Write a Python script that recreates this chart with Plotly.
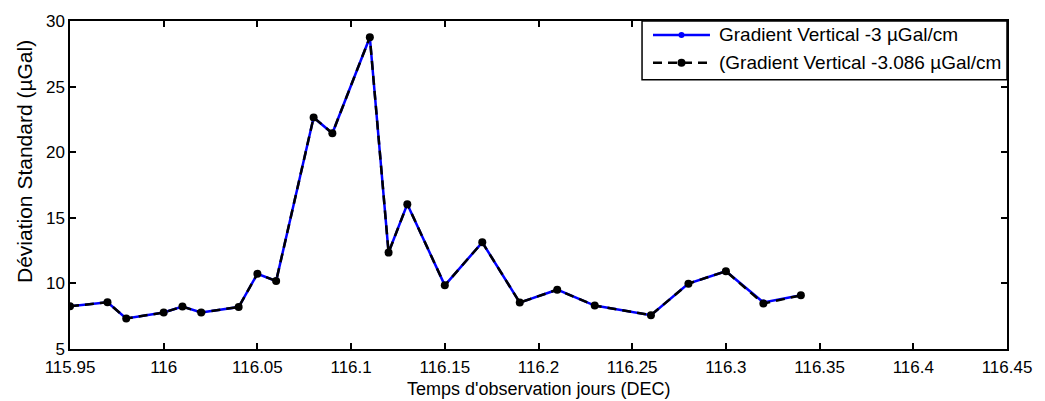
import plotly.graph_objects as go

# Observation times (decimal days)
temps = [115.95, 115.97, 115.98, 116.00, 116.01, 116.02, 116.04, 116.05,
         116.06, 116.08, 116.09, 116.11, 116.12, 116.13, 116.15, 116.17,
         116.19, 116.21, 116.23, 116.26, 116.28, 116.30, 116.32, 116.34]

# Standard deviation with a vertical gradient of -3 µGal/cm
dev_grad_3 = [8.26, 8.56, 7.33, 7.78, 8.23, 7.78, 8.20, 10.73,
              10.18, 22.65, 21.44, 28.76, 12.35, 16.04, 9.85, 13.13,
              8.54, 9.52, 8.31, 7.58, 9.98, 10.93, 8.55, 9.09]

# Standard deviation with a vertical gradient of -3.086 µGal/cm
dev_grad_3086 = [8.26, 8.56, 7.33, 7.78, 8.23, 7.78, 8.20, 10.73,
                 10.18, 22.65, 21.44, 28.76, 12.35, 16.04, 9.85, 13.13,
                 8.54, 9.52, 8.31, 7.58, 9.98, 10.93, 8.46, 9.09]

series_names = ["Gradient Vertical -3 µGal/cm",
                "(Gradient Vertical -3.086 µGal/cm"]

x_ticks = [115.95, 116.0, 116.05, 116.1, 116.15, 116.2, 116.25, 116.3,
           116.35, 116.4, 116.45]
x_tick_text = ["115.95", "116", "116.05", "116.1", "116.15", "116.2",
               "116.25", "116.3", "116.35", "116.4", "116.45"]
y_ticks = [5, 10, 15, 20, 25, 30]

FONT = "Liberation Sans, Arial, sans-serif"
BLUE = "#0000ff"
BLACK = "#000000"
DASH = "9px,6px"

fig = go.Figure()

fig.add_trace(go.Scatter(
    x=temps, y=dev_grad_3, mode="lines+markers", name=series_names[0],
    line=dict(color=BLUE, width=2.5),
    marker=dict(color=BLUE, size=6),
    showlegend=False,
))

fig.add_trace(go.Scatter(
    x=temps, y=dev_grad_3086, mode="lines+markers", name=series_names[1],
    line=dict(color=BLACK, width=2.5, dash=DASH),
    marker=dict(color=BLACK, size=8),
    showlegend=False,
))

axis_common = dict(
    showline=True, linecolor="black", linewidth=1.5, mirror="ticks",
    ticks="inside", ticklen=6, tickwidth=1.5, tickcolor="black",
    showgrid=False, zeroline=False,
    tickfont=dict(family=FONT, size=17, color="black"),
)

fig.update_xaxes(range=[115.95, 116.45], tickvals=x_ticks,
                 ticktext=x_tick_text, ticklabelstandoff=2, **axis_common)
fig.update_yaxes(range=[5, 30], tickvals=y_ticks, **axis_common)

# Axis titles
fig.add_annotation(
    text="Temps d'observation jours (DEC)", xref="paper", yref="paper",
    x=0.5, y=0, yshift=-52, xanchor="center", yanchor="bottom",
    showarrow=False, font=dict(family=FONT, size=18, color="black"),
)
fig.add_annotation(
    text="Déviation Standard (µGal)", xref="paper", yref="paper",
    x=0, xshift=-46, y=0.5, yshift=23, textangle=-90,
    xanchor="center", yanchor="middle",
    showarrow=False, font=dict(family=FONT, size=21, color="black"),
)

# Legend box in the upper-right corner of the axes
leg_x0, leg_x1 = 0.6105, 1.0
leg_y0, leg_y1 = 0.821, 1.0
fig.add_shape(type="rect", xref="paper", yref="paper",
              x0=leg_x0, x1=leg_x1, y0=leg_y0, y1=leg_y1,
              fillcolor="white", line=dict(color="black", width=1.5),
              layer="above")

row_y = [0.9576, 0.8727]
styles = [dict(color=BLUE, dash="solid", msize=6),
          dict(color=BLACK, dash=DASH, msize=8)]
sample_x0, sample_x1, sample_mid = 0.6222, 0.683, 0.6526
text_x = 0.6905
for name, y, st in zip(series_names, row_y, styles):
    fig.add_shape(type="line", xref="paper", yref="paper",
                  x0=sample_x0, x1=sample_x1, y0=y, y1=y,
                  line=dict(color=st["color"], width=2.5, dash=st["dash"]),
                  layer="above")
    r = st["msize"] / 2
    fig.add_shape(type="circle", xref="paper", yref="paper",
                  xsizemode="pixel", ysizemode="pixel",
                  xanchor=sample_mid, yanchor=y,
                  x0=-r, x1=r, y0=-r, y1=r,
                  fillcolor=st["color"], line=dict(color=st["color"], width=0),
                  layer="above")
    fig.add_annotation(text=name, xref="paper", yref="paper",
                       x=text_x, y=y, xanchor="left", yanchor="middle",
                       showarrow=False,
                       font=dict(family=FONT, size=19, color="black"))

fig.update_layout(
    width=1045, height=401,
    margin=dict(l=70, r=38, t=19, b=52),
    paper_bgcolor="white", plot_bgcolor="white",
    font=dict(family=FONT, size=17, color="black"),
    showlegend=False,
)

fig.write_html("out.html")
